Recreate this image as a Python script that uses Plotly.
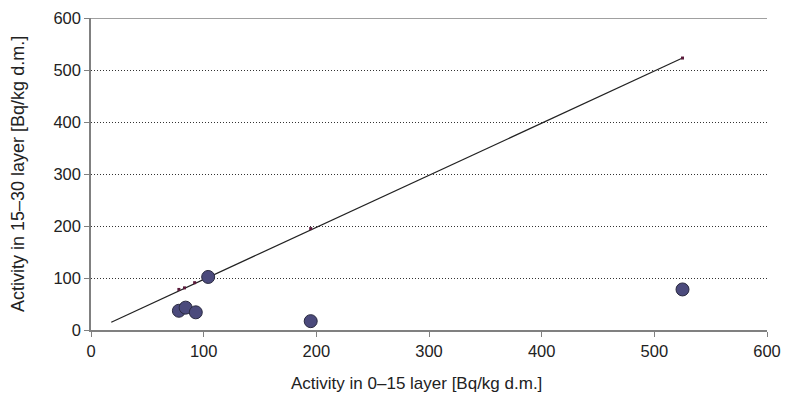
import plotly.graph_objects as go

# Measured points (0-15 layer vs 15-30 layer)
x_meas = [78, 84, 93, 104, 195, 525]
y_meas = [37, 43, 34, 102, 17, 78]

# Reference markers along the line
x_ref = [78, 83, 92, 105, 195, 525]
y_ref = [78, 81, 91, 104, 195, 523]

# Line endpoints
x_line = [18, 525]
y_line = [15, 523]

x_ticks = [0, 100, 200, 300, 400, 500, 600]
y_ticks = [0, 100, 200, 300, 400, 500, 600]

x_title = "Activity in 0\u201315 layer [Bq/kg d.m.]"
y_title = "Activity in 15\u201330 layer [Bq/kg d.m.]"

fig = go.Figure()
fig.add_trace(go.Scatter(x=x_line, y=y_line, mode="lines",
                         line=dict(color="#222222", width=1.2),
                         showlegend=False, hoverinfo="skip"))
fig.add_trace(go.Scatter(x=x_ref, y=y_ref, mode="markers",
                         marker=dict(symbol="square", size=3, color="#5a1a3a"),
                         showlegend=False))
fig.add_trace(go.Scatter(x=x_meas, y=y_meas, mode="markers",
                         marker=dict(symbol="circle", size=13, color="#4b4a7c",
                                     line=dict(color="#2a2a40", width=1)),
                         showlegend=False))

font = "Liberation Sans, Arial, sans-serif"
fig.update_layout(
    width=785, height=395,
    margin=dict(l=91, r=18, t=18, b=65),
    paper_bgcolor="white", plot_bgcolor="white",
    font=dict(family=font, size=16.5, color="#222222"),
    xaxis=dict(range=[0, 600], tickvals=x_ticks, showgrid=False, zeroline=False,
               showline=True, linecolor="#808080", linewidth=1.5,
               ticks="outside", ticklen=5, tickcolor="#808080",
               tickfont=dict(size=16.5), automargin=False),
    yaxis=dict(range=[0, 600], tickvals=y_ticks, showgrid=True,
               gridcolor="#333333", gridwidth=1, griddash="1px,2px",
               zeroline=False,
               showline=True, linecolor="#808080", linewidth=1.5,
               ticks="outside", ticklen=5, tickcolor="#808080",
               tickfont=dict(size=16.5), automargin=False),
    annotations=[
        dict(text=x_title, xref="paper", yref="paper", x=0.481, y=-0.170,
             xanchor="center", yanchor="middle", showarrow=False,
             font=dict(size=17)),
        dict(text=y_title, xref="paper", yref="paper", x=-0.108, y=0.5,
             xanchor="center", yanchor="middle", showarrow=False, textangle=-90,
             font=dict(size=18)),
    ],
)
fig.add_shape(type="line", xref="paper", yref="y", x0=0, x1=1, y0=600, y1=600,
              line=dict(color="#808080", width=1.5))

fig.write_html("out.html", config={"displayModeBar": False},
               post_script="document.body.style.margin='0';document.body.style.overflow='hidden';")
